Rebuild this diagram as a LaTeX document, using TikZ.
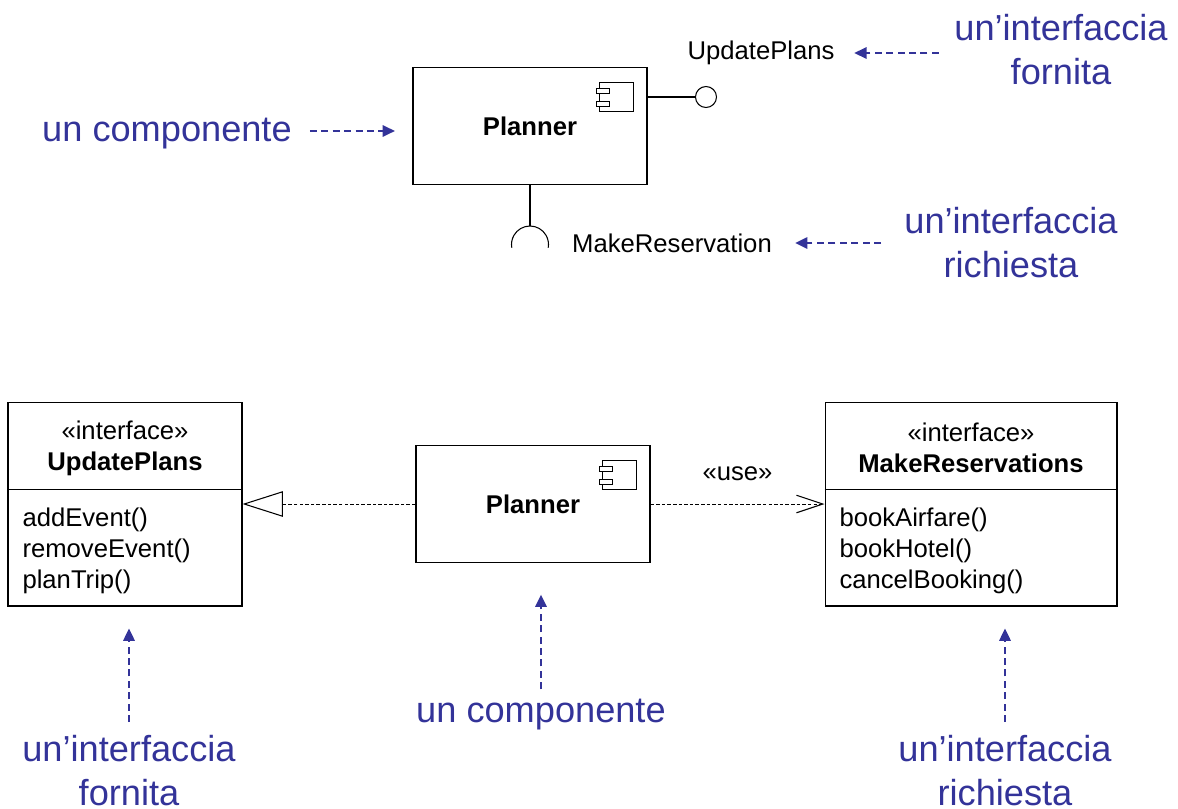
\documentclass[tikz,border=0pt]{standalone}
\usepackage{fontspec}
\setmainfont{Liberation Sans}
\usetikzlibrary{arrows.meta,calc}
\definecolor{notecol}{RGB}{51,51,153}

\tikzset{
  compicon/.pic={
    \draw[line width=0.5pt] (-48,15) rectangle (-14,44);
    \draw[line width=0.5pt,fill=white] (-51,21) rectangle (-38,26);
    \draw[line width=0.5pt,fill=white] (-51,34) rectangle (-38,39);
  }
}

\begin{document}
\begin{tikzpicture}[x=0.02cm,y=-0.02cm,line width=0.6pt,
  txt/.style={font=\fontsize{14.6pt}{17.6pt}\selectfont, inner sep=0pt},
  comp/.style={draw, minimum width=4.68cm, minimum height=2.34cm, font=\fontsize{14.6pt}{17.6pt}\selectfont\bfseries},
  ibox/.style={draw, minimum height=4.08cm},
  note/.style={text=notecol, font=\fontsize{20.6pt}{25pt}\selectfont, align=center, inner sep=0pt},
  notearrow/.style={draw=notecol, line width=1.1pt, dash pattern=on 4pt off 2.5pt, -{Triangle[length=7pt,width=6.5pt]}},
  real/.style={line width=0.5pt, dash pattern=on 2pt off 1.2pt, -{Triangle[open,length=23pt,width=14.5pt,line width=0.6pt]}},
  usedep/.style={line width=0.5pt, dash pattern=on 2pt off 1.2pt, -{Straight Barb[length=15pt,width=10pt,line width=0.6pt]}}]
  \useasboundingbox (0,0) rectangle (1178,809);

  % component with provided and required interface
  \node[comp] (pl) at (530,126) {Planner};
  \pic at (pl.north east) {compicon};
  \node[txt] (up) at (761,53) {UpdatePlans};
  \node[draw, circle, minimum size=0.42cm, inner sep=0pt] (ball) at (706,97) {};
  \draw (pl.east |- ball) -- (ball);
  \coordinate (sock) at (530,226);
  \draw (pl.south) -- (sock);
  \draw (sock) arc[start angle=90, end angle=190, radius=0.37cm];
  \draw (sock) arc[start angle=90, end angle=-10, radius=0.37cm];
  \node[txt] (mr) at (672,243) {MakeReservation};

  \node[note, anchor=base] (n1) at (167,141) {un componente};
  \node[note] (n2) at (1061,50) {un’interfaccia\\fornita};
  \node[note] (n3) at (1011,243) {un’interfaccia\\richiesta};
  \path
    ([yshift=5.7pt]n1.base east) edge[notearrow, shorten <=10pt, shorten >=10pt] ([yshift=5.7pt]n1.base east -| pl.west)
    (n2.west |- up.east) edge[notearrow, shorten <=8.5pt, shorten >=11pt] (up.east)
    (n3.west |- mr.east) edge[notearrow, shorten <=13pt, shorten >=13pt] (mr.east);

  % interfaces as classes
  \node[ibox, minimum width=4.68cm] (ub) at (125,504) {};
  \draw ($(ub.north west)+(0,88)$) -- ($(ub.north east)+(0,88)$);
  \node[txt, align=center] (uhead) at (125,448) {«interface»\\\textbf{UpdatePlans}};
  \node[txt, anchor=west, align=left] (uops) at (22,551) {addEvent()\\removeEvent()\\planTrip()};

  \node[comp] (pl2) at (533,504) {Planner};
  \pic at (pl2.north east) {compicon};

  \node[ibox, minimum width=5.84cm] (mb) at (971,504) {};
  \draw ($(mb.north west)+(0,88)$) -- ($(mb.north east)+(0,88)$);
  \node[txt, align=center] (mhead) at (971,448) {«interface»\\\textbf{MakeReservations}};
  \node[txt, anchor=west, align=left] (mops) at (839,551) {bookAirfare()\\bookHotel()\\cancelBooking()};

  \draw[real] (pl2) -- (ub);
  \draw[usedep] (pl2) -- node[txt, midway, yshift=17pt] {«use»} (mb);

  \node[note] (n4) at (129,771) {un’interfaccia\\fornita};
  \node[note, anchor=base] (n5) at (541,722) {un componente};
  \node[note] (n6) at (1005,771) {un’interfaccia\\richiesta};
  \path
    (n4.north) edge[notearrow, shorten <=7.5pt, shorten >=12.5pt] (n4.north |- ub.south)
    (n5.north) edge[notearrow, shorten <=5pt, shorten >=18pt] (n5.north |- pl2.south)
    (n6.north) edge[notearrow, shorten <=7.5pt, shorten >=12.5pt] (n6.north |- mb.south);
\end{tikzpicture}
\end{document}
